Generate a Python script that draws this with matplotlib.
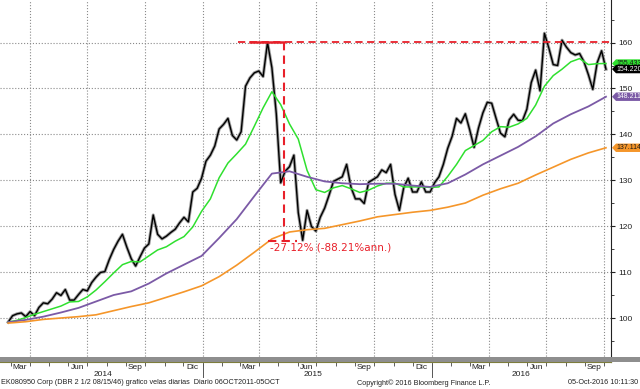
import matplotlib
matplotlib.use('Agg')
import matplotlib.pyplot as plt
import matplotlib.dates as mdates
from matplotlib.patches import Polygon, Rectangle
from matplotlib.lines import Line2D
from matplotlib.transforms import blended_transform_factory
import numpy as np
import pandas as pd

plt.rcParams['font.family'] = ['Liberation Sans Narrow', 'Liberation Sans', 'DejaVu Sans']

# weekly closes, first week 2014-02-25
price_start = '2014-02-25'
price = [99.2, 100.6, 101.0, 101.2, 100.4, 101.5, 100.6, 102.4, 103.4, 103.2,
         104.2, 105.6, 105.0, 106.3, 104.0, 104.0, 105.2, 106.3, 106.0, 107.8,
         109.0, 110.0, 110.2, 112.8, 115.0, 116.8, 118.3, 115.5, 113.0, 111.4,
         113.4, 115.3, 116.2, 122.5, 118.3, 117.3, 117.9, 118.7, 119.4, 120.8,
         122.0, 121.0, 127.5, 128.3, 130.5, 134.2, 135.5, 137.5, 141.2, 142.2,
         143.5, 139.8, 138.8, 140.6, 150.5, 152.3, 153.4, 153.8, 152.6, 160.0,
         154.5, 144.5, 129.5, 132.0, 133.0, 135.5, 123.0, 117.0, 123.5, 120.0,
         119.0, 122.0, 124.0, 126.8, 129.8, 130.3, 130.8, 133.5, 128.5, 126.0,
         126.0, 125.0, 129.6, 130.2, 130.8, 132.3, 131.7, 133.5, 127.0, 123.5,
         128.5, 130.5, 127.5, 127.5, 129.7, 127.5, 127.5, 129.5, 130.8, 133.5,
         137.0, 139.6, 143.5, 142.5, 144.5, 141.0, 137.2, 141.4, 144.7, 147.0,
         146.8, 143.5, 140.3, 139.5, 143.2, 144.4, 143.1, 143.0, 145.5, 151.3,
         154.0, 149.5, 162.0, 158.8, 155.2, 155.0, 160.5, 159.0, 157.8, 157.3,
         157.6, 155.8, 153.0, 149.8, 155.6, 158.2, 154.2]

# moving averages (green every 2 weeks, purple/orange every 4 weeks)
ma_fast = [99.2, 99.6, 100.2, 100.9, 101.5, 102.1, 102.7, 103.6, 103.7, 104.7,
           106.2, 108.0, 109.9, 111.7, 112.4, 112.3, 113.6, 114.9, 115.6, 116.8,
           117.8, 119.9, 123.3, 126.0, 130.6, 133.8, 135.8, 137.9, 141.8, 145.8,
           149.3, 146.5, 142.3, 139.0, 132.2, 128.0, 127.4, 128.4, 128.9, 128.2,
           127.4, 127.9, 128.8, 129.4, 129.4, 128.6, 128.6, 128.6, 128.5, 128.6,
           130.9, 133.5, 136.5, 137.6, 138.7, 140.6, 141.7, 141.6, 142.3, 143.5,
           146.4, 150.5, 152.8, 154.2, 155.8, 156.5, 155.2, 155.4, 155.433]
ma_mid = [99.2, 99.7, 100.4, 101.3, 102.3, 103.7, 105.1, 105.9, 107.6, 109.8,
          111.7, 113.6, 117.5, 121.6, 126.6, 131.5, 132.0, 130.8, 129.8, 129.4,
          129.2, 129.3, 129.3, 128.9, 128.6, 129.4, 131.3, 133.5, 135.4, 137.3,
          139.6, 142.4, 144.4, 146.1, 148.211]
ma_slow = [99.0, 99.3, 99.8, 100.1, 100.4, 100.8, 101.7, 102.6, 103.4, 104.6,
           105.8, 107.1, 109.1, 111.6, 114.4, 117.3, 118.8, 119.3, 119.6, 120.4,
           121.2, 122.1, 122.6, 123.1, 123.5, 124.2, 125.1, 126.8, 128.2, 129.4,
           131.2, 132.9, 134.6, 136.0, 137.114]

last_price = 154.220
peak_val = 160.2
trough_val = 116.85
drop_label = '-27.12% (-88.21%ann.)'

dates = pd.date_range(price_start, periods=len(price), freq='7D')
dates_fast = dates[::2]
dates_4w = dates[::4]

c_green = '#2fe02f'
c_purple = '#7b5aa6'
c_orange = '#f5962a'
c_red = '#e8202a'

fig = plt.figure(figsize=(6.4, 3.89), dpi=100)
ax = fig.add_axes([0, 27 / 389, 611 / 640, 362 / 389])

ax.plot(dates, price, color='#777777', lw=2.3, alpha=0.7, zorder=3)
ax.plot(dates, price, color='black', lw=1.0, zorder=4)
ax.plot(dates_fast, ma_fast, color=c_green, lw=1.1, zorder=5)
ax.plot(dates_4w, ma_mid, color=c_purple, lw=1.3, zorder=5)
ax.plot(dates_4w, ma_slow, color=c_orange, lw=1.2, zorder=5)

ax.set_xlim(pd.Timestamp('2014-02-12'), pd.Timestamp('2016-10-12'))
ax.set_ylim(90.54, 169.24)

# y axis on the right
ax.yaxis.tick_right()
ax.set_yticks(np.arange(100, 161, 10))
ax.yaxis.set_minor_locator(matplotlib.ticker.MultipleLocator(5))
ax.tick_params(axis='y', which='major', direction='out', length=3, pad=2,
               labelsize=6, colors='#222222')
ax.tick_params(axis='y', which='minor', direction='out', length=2, colors='#222222')
ax.grid(True, axis='y', which='major', ls=':', color='#8a8a8a', lw=0.8)

# x axis: month labels at mid month, monthly ticks, quarter grid
label_dates = pd.date_range('2014-03-01', '2016-09-01', freq='3MS') + pd.Timedelta(days=14)
month_names = {3: 'Mar', 6: 'Jun', 9: 'Sep', 12: 'Dic'}
ax.set_xticks(label_dates)
ax.set_xticklabels([month_names[d.month] for d in label_dates])
ax.xaxis.set_minor_locator(mdates.MonthLocator())
ax.tick_params(axis='x', which='major', length=0, pad=1.5, labelsize=6, colors='#222222')
ax.tick_params(axis='x', which='minor', direction='out', length=3, colors='#444444')
for d in pd.date_range('2014-04-01', '2016-10-01', freq='3MS'):
    ax.axvline(d, ls=':', color='#8a8a8a', lw=0.8, zorder=1)

for s in ['left', 'top']:
    ax.spines[s].set_visible(False)
ax.spines['right'].set_color('#222222')
ax.spines['bottom'].set_color('#7d7d3c')

# year labels and separators
for yr, d in [('2014', '2014-07-26'), ('2015', '2015-06-25'), ('2016', '2016-05-21')]:
    ax.annotate(yr, xy=(pd.Timestamp(d), 0), xycoords=('data', 'axes fraction'),
                xytext=(0, -13), textcoords='offset pixels', ha='center', va='center',
                fontsize=6, color='#222222')
tr_year = blended_transform_factory(ax.transData, fig.transFigure)
for d in ['2015-01-01', '2016-01-01']:
    x = mdates.date2num(pd.Timestamp(d))
    fig.add_artist(Line2D([x, x], [1 - 364 / 389, 1 - 377 / 389], transform=tr_year,
                          color='#555555', lw=0.7))

# grey scroll band along the bottom
fig.add_artist(Rectangle((0, 1 - 361.5 / 389), 1, 4.5 / 389, transform=fig.transFigure,
                         facecolor='#8e8e8e', edgecolor='none', zorder=10))

# drawdown annotation
ax.plot([pd.Timestamp('2015-02-26'), pd.Timestamp('2016-10-12')], [peak_val, peak_val],
        color=c_red, lw=1.3, dashes=(4, 2.5), zorder=6)
ax.plot([pd.Timestamp('2015-03-17'), pd.Timestamp('2015-05-10')], [peak_val, peak_val],
        color=c_red, lw=1.8, zorder=6)
ax.plot([pd.Timestamp('2015-05-10'), pd.Timestamp('2015-05-10')], [peak_val, trough_val],
        color=c_red, lw=1.5, dashes=(4, 2.5), zorder=6)
ax.plot([pd.Timestamp('2015-04-15'), pd.Timestamp('2015-05-31')], [trough_val, trough_val],
        color=c_red, lw=1.5, dashes=(4, 2.5), zorder=6)
ax.text(pd.Timestamp('2015-04-18'), 115.4, drop_label, color=c_red, fontsize=7.5,
        family='DejaVu Sans', ha='left', va='center', zorder=6)

# value tags on the right
tr_tag = blended_transform_factory(ax.transAxes, ax.transData)
px = 1 / 611
hh = 4.2 / 4.6
tags = [(ma_fast[-1], c_green, '#1a1a1a'), (last_price, 'black', 'white'),
        (ma_mid[-1], c_purple, 'white'), (ma_slow[-1], c_orange, '#1a1a1a')]
for val, bg, fg in tags:
    pts = [(1 + 1 * px, val), (1 + 5 * px, val + hh), (1 + 29 * px, val + hh),
           (1 + 29 * px, val - hh), (1 + 5 * px, val - hh)]
    ax.add_patch(Polygon(pts, closed=True, transform=tr_tag, facecolor=bg,
                         edgecolor='none', clip_on=False, zorder=8))
    ax.text(1 + 5 * px, val, '{:.3f}'.format(val), transform=tr_tag, color=fg,
            fontsize=5.0, ha='left', va='center', clip_on=False, zorder=9)

# footer
fy = 1 - 383 / 389
fig.text(1 / 640, fy, 'EK080950 Corp (DBR 2 1/2 08/15/46) grafico velas diarias  Diario 06OCT2011-05OCT',
         fontsize=5.2, color='#222222', va='center')
fig.text(357 / 640, fy, 'Copyright\u00a9 2016 Bloomberg Finance L.P.', fontsize=5.2,
         color='#222222', va='center')
fig.text(638 / 640, fy, '05-Oct-2016 10:11:30', fontsize=5.2, color='#222222',
         va='center', ha='right')

fig.savefig('out.png', dpi=100)
